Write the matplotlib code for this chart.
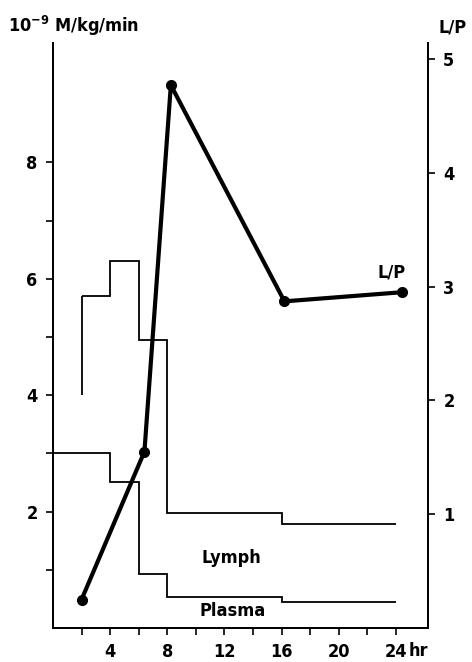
import numpy as np
import matplotlib
matplotlib.use("Agg")
import matplotlib.pyplot as plt

plt.rcParams['font.family'] = ['DejaVu Sans']
plt.rcParams['font.stretch'] = 'condensed'
plt.rcParams['font.weight'] = 'bold'
plt.rcParams['mathtext.default'] = 'regular'

# -------------------------------------------------------
# data
# -------------------------------------------------------
plasma_edges = [0, 4, 6, 8, 16, 24]
plasma_vals = [3.0, 2.5, 0.93, 0.54, 0.44]

lymph_edges = [2, 4, 6, 8, 16, 24]
lymph_vals = [5.7, 6.3, 4.95, 1.97, 1.79]
lymph_start = 4.0

lp_hours = [2.0, 6.4, 8.25, 16.2, 24.4]
lp_ratio = [0.25, 1.55, 4.77, 2.87, 2.95]

x_major = [4, 8, 12, 16, 20, 24]
x_minor = [2, 6, 10, 14, 18, 22]
left_major = [2, 4, 6, 8]
left_minor = [1, 3, 5, 7]
right_major = [1, 2, 3, 4, 5]

# -------------------------------------------------------
# figure
# -------------------------------------------------------
fig = plt.figure(figsize=(4.72, 6.62), dpi=100)
ax = fig.add_axes([53/472, 34/662, 375/472, 585/662])
ax2 = ax.twinx()

lw_step = 1.3
ax.stairs(plasma_vals, plasma_edges, baseline=None, color='black', lw=lw_step)
ax.stairs(lymph_vals, lymph_edges, baseline=None, color='black', lw=lw_step)
ax.vlines(lymph_edges[0], lymph_start, lymph_vals[0], color='black', lw=lw_step)

ax2.plot(lp_hours, lp_ratio, color='black', lw=3.0, marker='o', ms=7)

ax.set_xlim(0, 26.25)
ax.set_ylim(0, 10.05)
ax2.set_ylim(0, 5.14)

ax.set_xticks(x_major)
ax.set_xticklabels([str(v) for v in x_major])
ax.set_xticks(x_minor, minor=True)
ax.set_yticks(left_major)
ax.set_yticks(left_minor, minor=True)
ax2.set_yticks(right_major)

for a in (ax, ax2):
    a.spines['top'].set_visible(False)
    for s in a.spines.values():
        s.set_linewidth(1.3)
    a.tick_params(which='both', direction='out', length=5, width=1.2,
                  labelsize=13, pad=6)

ax.text(12.5, 1.2, "Lymph", fontsize=13, ha='center', va='center')
ax.text(12.6, 0.3, "Plasma", fontsize=13, ha='center', va='center')
ax.text(23.7, 6.1, "L/P", fontsize=13, ha='center', va='center')
ax.annotate("hr", xy=(24, 0), xycoords=('data', 'axes fraction'),
            xytext=(9, -10), textcoords='offset points',
            ha='left', va='top', fontsize=13)

fig.text(8/472, 1 - 26/662, r"$10^{-9}$ M/kg/min", fontsize=13,
         ha='left', va='center')
fig.text(453/472, 1 - 27/662, "L/P", fontsize=13, ha='center', va='center')

fig.savefig("out.png", dpi=100)
